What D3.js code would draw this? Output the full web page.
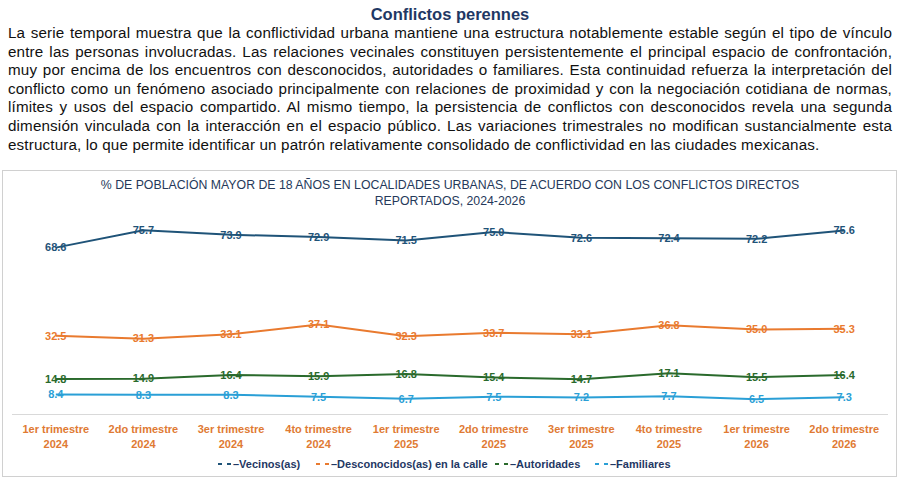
<!DOCTYPE html>
<html><head><meta charset="utf-8">
<script src="https://cdn.jsdelivr.net/npm/d3@7"></script>
<style>
body{margin:0;width:900px;height:478px;background:#fff;font-family:"Liberation Sans",Arial,sans-serif;overflow:hidden}
#head{position:absolute;left:8px;top:4px;width:884px}
#head h1{margin:0;text-align:center;font-size:16.5px;color:#1f3864;line-height:20px}
#head p{margin:0;font-size:15.2px;letter-spacing:0.15px;line-height:18.6px;text-align:justify;color:#111}
svg{position:absolute;left:0;top:0}
</style></head><body>
<div id="head"><h1>Conflictos perennes</h1>
<p>La serie temporal muestra que la conflictividad urbana mantiene una estructura notablemente estable según el tipo de vínculo entre las personas involucradas. Las relaciones vecinales constituyen persistentemente el principal espacio de confrontación, muy por encima de los encuentros con desconocidos, autoridades o familiares. Esta continuidad refuerza la interpretación del conflicto como un fenómeno asociado principalmente con relaciones de proximidad y con la negociación cotidiana de normas, límites y usos del espacio compartido. Al mismo tiempo, la persistencia de conflictos con desconocidos revela una segunda dimensión vinculada con la interacción en el espacio público. Las variaciones trimestrales no modifican sustancialmente esta estructura, lo que permite identificar un patrón relativamente consolidado de conflictividad en las ciudades mexicanas.</p></div>
<svg id="c" width="900" height="478"></svg>
<script>
const quarters = ["1er trimestre","2do trimestre","3er trimestre","4to trimestre","1er trimestre","2do trimestre","3er trimestre","4to trimestre","1er trimestre","2do trimestre"];
const years = ["2024","2024","2024","2024","2025","2025","2025","2025","2026","2026"];
const vecinos = [68.6,75.7,73.9,72.9,71.5,75.0,72.6,72.4,72.2,75.6];
const desconocidos = [32.5,31.3,33.1,37.1,32.3,33.7,33.1,36.8,35.0,35.3];
const autoridades = [14.8,14.9,16.4,15.9,16.8,15.4,14.7,17.1,15.5,16.4];
const familiares = [8.4,8.3,8.3,7.5,6.7,7.5,7.2,7.7,6.5,7.3];
const seriesNames = ["Vecinos(as)","Desconocidos(as) en la calle","Autoridades","Familiares"];
const colors = ["#1f5378","#e97a2f","#2a6a2c","#2a9fd6"];
const series = [vecinos,desconocidos,autoridades,familiares];

const svg = d3.select("#c");
svg.append("rect").attr("x",2.5).attr("y",170.5).attr("width",894).attr("height",306)
  .attr("fill","#fff").attr("stroke","#d0d0d0");
const cats = d3.range(quarters.length);
const x = d3.scaleBand().domain(cats).range([12,888]);
const y = d3.scaleLinear().domain([0,100]).range([415,171]);
const cx = i => x(i)+x.bandwidth()/2;

const t = svg.append("text").attr("x",450).attr("text-anchor","middle")
  .attr("font-size",12.3).attr("fill","#25395a");
t.append("tspan").attr("x",450).attr("y",189).text("% DE POBLACIÓN MAYOR DE 18 AÑOS EN LOCALIDADES URBANAS, DE ACUERDO CON LOS CONFLICTOS DIRECTOS");
t.append("tspan").attr("x",450).attr("y",205).text("REPORTADOS, 2024-2026");

svg.append("line").attr("x1",12).attr("x2",888).attr("y1",414.5).attr("y2",414.5).attr("stroke","#d9d9d9");

const line = d3.line().x((d,i)=>cx(i)).y(d=>y(d));
series.forEach((s,k)=>{
  svg.append("path").attr("d",line(s)).attr("fill","none").attr("stroke",colors[k]).attr("stroke-width",2);
  svg.selectAll(null).data(s).enter().append("text")
    .attr("x",(d,i)=>cx(i)).attr("y",d=>y(d)).attr("dy","0.35em")
    .attr("text-anchor","middle").attr("font-size",11).attr("font-weight","bold")
    .attr("fill",colors[k]).text(d=>d.toFixed(1));
});

const xl = svg.append("g").attr("font-family","'Liberation Sans Narrow','Arial Narrow',sans-serif")
  .attr("font-size",11).attr("font-weight","bold").attr("fill","#e07a33").attr("text-anchor","middle");
cats.forEach(i=>{
  xl.append("text").attr("x",cx(i)).attr("y",433).text(quarters[i]);
  xl.append("text").attr("x",cx(i)).attr("y",448).text(years[i]);
});

const lg = svg.append("g").attr("font-family","'Liberation Sans Narrow','Arial Narrow',sans-serif")
  .attr("font-size",11).attr("font-weight","bold").attr("fill","#1f3864");
const lx = [218,316,495,595];
seriesNames.forEach((n,k)=>{
  lg.append("line").attr("x1",lx[k]).attr("x2",lx[k]+14).attr("y1",464).attr("y2",464)
    .attr("stroke",colors[k]).attr("stroke-width",2).attr("stroke-dasharray","4,5");
  lg.append("text").attr("x",lx[k]+15).attr("y",468).text("–"+n);
});
</script></body></html>
